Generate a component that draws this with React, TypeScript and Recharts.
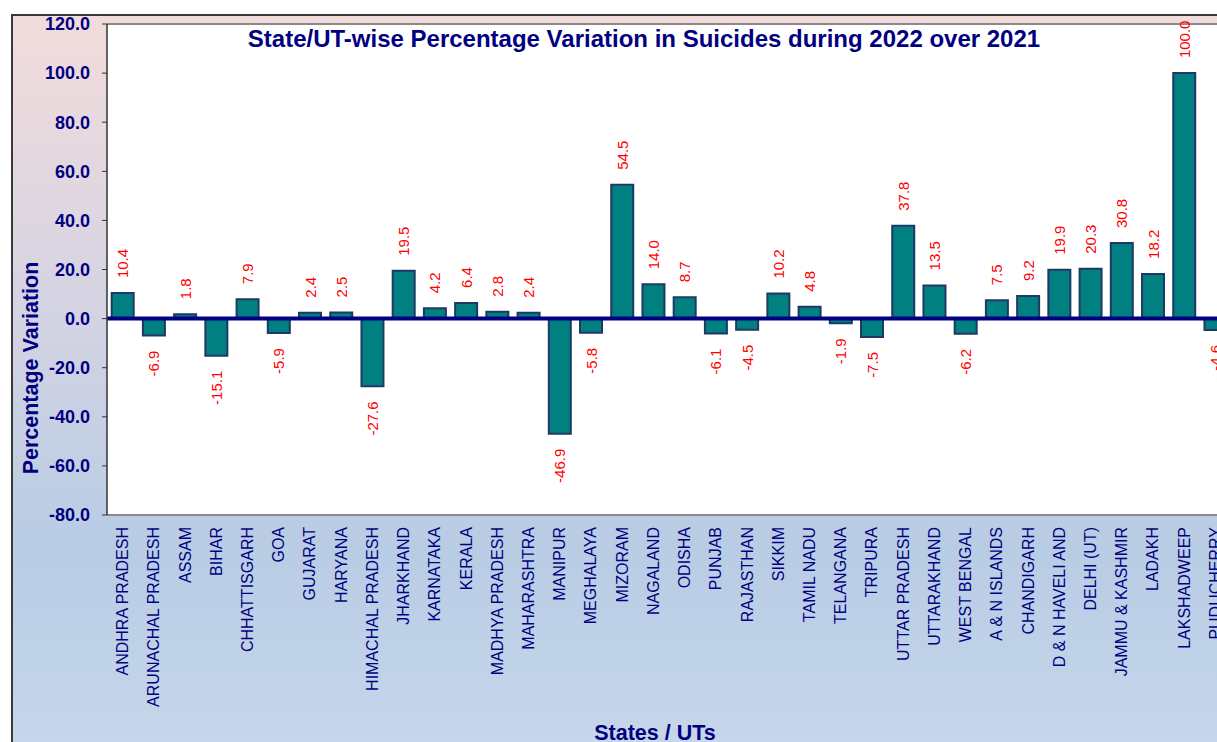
import { Bar, BarChart, CartesianGrid, LabelList, ReferenceLine, XAxis, YAxis, Label } from "recharts";

const states = [
  "ANDHRA PRADESH", "ARUNACHAL PRADESH", "ASSAM", "BIHAR", "CHHATTISGARH", "GOA",
  "GUJARAT", "HARYANA", "HIMACHAL PRADESH", "JHARKHAND", "KARNATAKA", "KERALA",
  "MADHYA PRADESH", "MAHARASHTRA", "MANIPUR", "MEGHALAYA", "MIZORAM", "NAGALAND",
  "ODISHA", "PUNJAB", "RAJASTHAN", "SIKKIM", "TAMIL NADU", "TELANGANA",
  "TRIPURA", "UTTAR PRADESH", "UTTARAKHAND", "WEST BENGAL", "A & N ISLANDS", "CHANDIGARH",
  "D & N HAVELI AND", "DELHI (UT)", "JAMMU & KASHMIR", "LADAKH", "LAKSHADWEEP", "PUDUCHERRY",
];

const variation = [
  10.4, -6.9, 1.8, -15.1, 7.9, -5.9,
  2.4, 2.5, -27.6, 19.5, 4.2, 6.4,
  2.8, 2.4, -46.9, -5.8, 54.5, 14.0,
  8.7, -6.1, -4.5, 10.2, 4.8, -1.9,
  -7.5, 37.8, 13.5, -6.2, 7.5, 9.2,
  19.9, 20.3, 30.8, 18.2, 100.0, -4.6,
];

const yTicks = [-80, -60, -40, -20, 0, 20, 40, 60, 80, 100, 120];

const data = states.map((state, i) => ({ state, value: variation[i] }));

const NAVY = "#000080";
const FONT = "'Liberation Sans', Arial, sans-serif";

function StateTick(props: any) {
  const { x, y, payload } = props;
  return (
    <text
      x={x}
      y={y}
      transform={`rotate(-90 ${x} ${y})`}
      textAnchor="end"
      dominantBaseline="central"
      fill={NAVY}
      fontSize={16}
      fontFamily={FONT}
    >
      {payload.value}
    </text>
  );
}

function ValueLabel(props: any) {
  const { x, y, width, height, value } = props;
  const cx = x + width / 2;
  const top = Math.min(y, y + height);
  const bottom = Math.max(y, y + height);
  const ly = value >= 0 ? top - 15 : bottom + 15;
  return (
    <text
      x={cx}
      y={ly}
      transform={`rotate(-90 ${cx} ${ly})`}
      textAnchor={value >= 0 ? "start" : "end"}
      dominantBaseline="central"
      fill="#ff0000"
      fontSize={15}
      fontFamily={FONT}
    >
      {Number(value).toFixed(1)}
    </text>
  );
}

export default function App() {
  return (
    <div
      style={{
        position: "absolute",
        left: 0,
        top: 0,
        width: 1217,
        height: 742,
        overflow: "hidden",
        background: "#ffffff",
      }}
    >
      <div
        style={{
          position: "absolute",
          left: 11,
          top: 14,
          width: 1260,
          height: 760,
          borderLeft: "2px solid #3a3a3a",
          borderTop: "2px solid #3a3a3a",
          background: "linear-gradient(180deg, #f2dcdb 0%, #d3d3e3 40%, #b8cce4 70%, #c8d8ec 100%)",
        }}
      >
        <BarChart
          width={1240}
          height={726}
          data={data}
          margin={{ top: 8, right: 22, bottom: 0, left: 0 }}
          barCategoryGap="15%"
        >
          <CartesianGrid fill="#ffffff" stroke="none" horizontal={false} vertical={false} />
          <XAxis
            dataKey="state"
            interval={0}
            height={227}
            tick={<StateTick />}
            tickLine={false}
            tickSize={0}
            tickMargin={12}
            axisLine={{ stroke: "#8a8a8a", strokeWidth: 2 }}
          >
            <Label
              content={() => (
                <text x={642} y={724} textAnchor="middle" fill={NAVY} fontSize={21.5} fontWeight="bold" fontFamily={FONT}>
                  States / UTs
                </text>
              )}
            />
          </XAxis>
          <YAxis
            width={94}
            domain={[-80, 120]}
            ticks={yTicks}
            interval={0}
            tickFormatter={(v: number) => v.toFixed(1)}
            tick={{ fill: NAVY, fontSize: 18, fontWeight: "bold", fontFamily: FONT }}
            tickSize={5}
            tickMargin={12}
            tickLine={{ stroke: "#333333" }}
            axisLine={{ stroke: "#333333", strokeWidth: 1.5 }}
          >
            <Label
              content={() => (
                <text
                  x={18}
                  y={352}
                  transform="rotate(-90 18 352)"
                  textAnchor="middle"
                  dominantBaseline="central"
                  fill={NAVY}
                  fontSize={21.5}
                  fontWeight="bold"
                  fontFamily={FONT}
                >
                  Percentage Variation
                </text>
              )}
            />
          </YAxis>
          <ReferenceLine y={120} stroke="#8a8a8a" strokeWidth={2} />
          <Bar dataKey="value" fill="#008080" stroke="#1f3864" strokeWidth={2} isAnimationActive={false}>
            <LabelList dataKey="value" content={<ValueLabel />} />
          </Bar>
          <ReferenceLine y={0} stroke={NAVY} strokeWidth={4} />
        </BarChart>
        <div
          style={{
            position: "absolute",
            left: 631,
            top: 9,
            transform: "translateX(-50%)",
            whiteSpace: "nowrap",
            color: NAVY,
            fontFamily: FONT,
            fontSize: 24,
            fontWeight: "bold",
          }}
        >
          State/UT-wise Percentage Variation in Suicides during 2022 over 2021
        </div>
      </div>
    </div>
  );
}
